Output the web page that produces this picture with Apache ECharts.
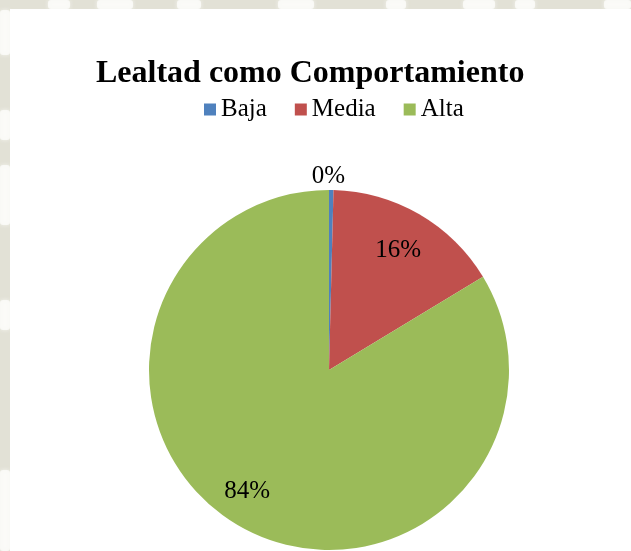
<!DOCTYPE html>
<html>
<head>
<meta charset="utf-8">
<script src="https://cdn.jsdelivr.net/npm/echarts@6/dist/echarts.min.js"></script>
<style>
  html, body { margin: 0; padding: 0; background: #e2e1d6; }
  #chart { width: 631px; height: 551px; }
</style>
</head>
<body>
<div id="chart"></div>
<script>
// Lealtad como Comportamiento: respondents by level
const categories = ['Baja', 'Media', 'Alta'];
const counts = [1, 40, 210];
const colors = ['#4f81bd', '#c0504d', '#9bbb59'];
const titleText = 'Lealtad como Comportamiento';

const serif = '"Liberation Serif", "Times New Roman", serif';
const center = [329, 370];
const pieData = categories.map((name, i) => ({ name, value: counts[i] }));

const chart = echarts.init(document.getElementById('chart'), null, { renderer: 'canvas' });

// labels are carried by transparent rings so the text sits where it should
function labelRing(radius, showIndex, offsets) {
  return {
    type: 'pie',
    center: center,
    radius: radius,
    startAngle: 90,
    clockwise: true,
    silent: true,
    avoidLabelOverlap: false,
    percentPrecision: 0,
    itemStyle: { color: 'transparent', borderWidth: 0 },
    emphasis: { disabled: true },
    labelLine: { show: false },
    label: {
      show: true,
      position: 'inside',
      formatter: p => (showIndex.includes(p.dataIndex) ? p.percent + '%' : ''),
      fontFamily: serif,
      fontSize: 25,
      color: '#000'
    },
    data: pieData.map((d, i) => (offsets && offsets[i] ? { ...d, label: { offset: offsets[i] } } : d))
  };
}

// soft light streaks in the frame around the chart area
const frameStreaks = [
  [48, 0, 22, 9], [97, 0, 36, 9], [177, 0, 24, 9], [278, 0, 36, 9],
  [386, 0, 20, 9], [463, 0, 32, 9], [515, 0, 20, 9], [604, 0, 27, 9],
  [0, 10, 10, 45], [0, 110, 10, 30], [0, 165, 10, 60], [0, 300, 10, 30], [0, 470, 10, 81]
].map(([x, y, w, h]) => ({
  type: 'rect',
  shape: { x, y, width: w, height: h, r: 3 },
  style: { fill: 'rgba(252,252,249,0.85)', shadowBlur: 4, shadowColor: 'rgba(252,252,249,0.8)' },
  z: 0
}));

chart.setOption({
  backgroundColor: '#e2e1d6',
  animation: false,
  graphic: frameStreaks.concat([
    // white chart area
    { type: 'rect', shape: { x: 10, y: 9, width: 631, height: 551 }, style: { fill: '#ffffff' }, z: 1 }
  ]),
  title: {
    text: titleText,
    left: 91,
    top: 53,
    textStyle: { fontFamily: serif, fontWeight: 'bold', fontSize: 32, color: '#000' }
  },
  legend: {
    top: 92,
    left: 199,
    itemWidth: 12,
    itemHeight: 12,
    itemGap: 28,
    icon: 'rect',
    selectedMode: false,
    data: categories.map((name, i) => ({ name, itemStyle: { color: colors[i] } })),
    textStyle: { fontFamily: serif, fontSize: 25, color: '#000' }
  },
  series: [
    {
      type: 'pie',
      center: center,
      radius: 180,
      startAngle: 90,
      clockwise: true,
      avoidLabelOverlap: false,
      percentPrecision: 0,
      color: colors,
      label: { show: false },
      labelLine: { show: false },
      emphasis: { scale: false },
      data: pieData
    },
    labelRing([90, 180], [1, 2], { 2: [-14, 1] }),
    labelRing([181, 201], [0], { 0: [-3, 0] })
  ]
});
</script>
</body>
</html>
